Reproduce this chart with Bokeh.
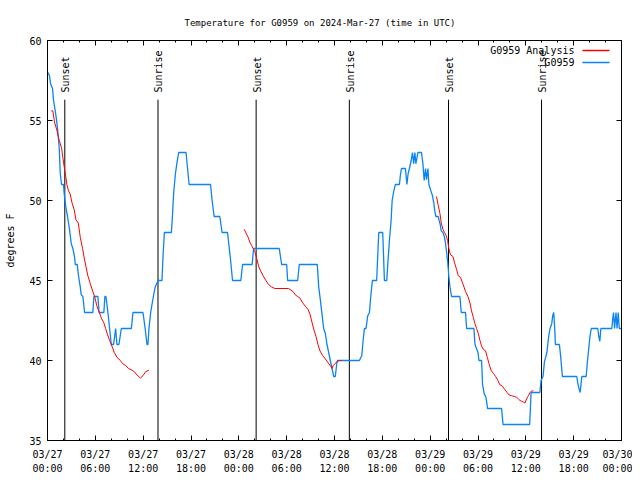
import math
from bokeh.plotting import figure
from bokeh.models import Range1d, FixedTicker, LinearAxis
from bokeh.core.properties import value
from bokeh.embed import file_html
from bokeh.resources import INLINE

TITLE = "Temperature for G0959 on 2024-Mar-27 (time in UTC)"
Y_LABEL = "degrees F"

# x axis: hours since 2024-03-27 00:00 UTC
X_TICKS = [0, 6, 12, 18, 24, 30, 36, 42, 48, 54, 60, 66, 72]
X_TICK_DATES = ["03/27", "03/27", "03/27", "03/27", "03/28", "03/28", "03/28", "03/28",
                "03/29", "03/29", "03/29", "03/29", "03/30"]
X_TICK_TIMES = ["00:00", "06:00", "12:00", "18:00", "00:00", "06:00", "12:00", "18:00",
                "00:00", "06:00", "12:00", "18:00", "00:00"]
X_MINOR = list(range(0, 73, 2))
Y_TICKS = [35, 40, 45, 50, 55, 60]

# G0959 observations
obs_hours = [0.06, 0.25, 0.38, 0.63, 0.75, 1.09, 1.26, 1.47, 1.60, 1.76, 2.01, 2.10, 2.30, 2.51,
             2.73, 2.98, 3.18, 3.39, 3.48, 3.73, 3.86, 3.98, 4.11, 4.23, 4.44, 4.65, 5.69, 5.82,
             6.32, 6.47, 7.07, 7.20, 7.33, 7.58, 7.79, 8.00, 8.29, 8.55, 8.71, 8.96, 9.26, 10.52,
             10.72, 11.98, 12.25, 12.48, 12.60, 12.73, 12.94, 13.28, 13.51, 13.86, 14.36, 14.49,
             14.66, 15.54, 15.67, 15.83, 16.05, 16.25, 16.46, 17.38, 17.76, 20.45, 20.65, 20.90,
             21.61, 21.90, 22.58, 22.74, 22.96, 23.21, 24.25, 24.47, 25.67, 25.85, 29.07, 29.37,
             30.00, 30.12, 31.38, 31.58, 33.84, 34.02, 34.22, 34.43, 34.64, 34.85, 35.06, 35.27,
             35.47, 35.69, 35.90, 36.10, 36.28, 36.40, 39.12, 39.42, 39.58, 39.75, 39.96, 40.17,
             40.38, 40.55, 40.75, 41.29, 41.42, 41.55, 42.05, 42.26, 42.56, 42.68, 42.89, 43.10,
             43.23, 43.44, 43.64, 44.14, 44.27, 44.40, 44.90, 45.08, 45.24, 45.40, 45.62, 45.78,
             45.93, 46.08, 46.21, 46.46, 46.91, 47.09, 47.25, 47.42, 47.54, 47.72, 47.84, 48.09,
             48.29, 48.47, 48.59, 48.72, 49.01, 49.13, 49.26, 49.39, 49.60, 49.80, 49.93, 50.05,
             50.18, 50.26, 50.35, 50.48, 50.68, 51.73, 51.90, 52.44, 52.57, 53.49, 53.62, 54.00,
             54.12, 54.45, 54.57, 54.79, 55.00, 55.20, 56.96, 57.14, 60.48, 60.66, 61.76, 61.91,
             62.16, 62.33, 62.64, 62.89, 63.04, 63.25, 63.37, 63.50, 63.62, 63.71, 64.21, 64.34,
             64.50, 64.59, 66.39, 66.51, 66.69, 66.82, 66.94, 67.02, 67.57, 67.70, 67.86, 68.02,
             68.20, 69.03, 69.15, 69.28, 69.41, 70.79, 70.92, 71.00, 71.13, 71.31, 71.44, 71.59,
             71.72, 71.94]
obs_temp = [58.0, 57.8, 57.3, 57.0, 56.3, 55.2, 54.5, 53.3, 51.7, 51.0, 51.0, 50.4, 49.6, 49.0,
            48.3, 47.3, 47.0, 46.5, 46.0, 46.0, 45.4, 45.0, 44.6, 44.1, 44.0, 43.0, 43.0, 44.0,
            44.0, 43.0, 43.0, 44.0, 44.0, 43.0, 42.0, 41.0, 41.0, 42.0, 41.0, 41.0, 42.0, 42.0,
            43.0, 43.0, 42.0, 41.0, 41.0, 42.0, 43.0, 44.0, 44.6, 45.0, 45.0, 46.5,
            48.0, 48.0, 49.0, 50.5, 51.7, 52.4, 53.0, 53.0, 51.0, 51.0, 50.0, 49.0,
            49.0, 48.0, 48.0, 47.3, 46.3, 45.0, 45.0, 46.0, 46.0, 47.0, 47.0, 46.0,
            46.0, 45.0, 45.0, 46.0, 46.0, 44.6, 43.8, 42.9, 42.0, 41.7, 41.0, 40.5,
            40.0, 39.5, 39.0, 39.0, 39.8, 40.0, 40.0, 40.3, 41.2, 42.0, 42.0, 42.8,
            43.0, 44.0, 45.0, 45.0, 46.5, 48.0, 48.0, 45.0, 45.0, 46.0, 47.5, 48.75,
            50.0, 50.6, 51.0, 51.0, 51.6, 52.0, 52.0, 51.0, 51.7, 52.0, 52.5, 53.0,
            52.3, 53.0, 52.3, 53.0, 53.0, 52.3, 51.25, 52.0, 51.3, 52.0, 51.0, 50.6,
            50.3, 49.8, 49.3, 49.0, 49.0, 48.75, 48.5, 48.1, 48.0, 47.7, 47.3, 46.8,
            46.25, 45.8, 45.2, 44.6, 44.0, 44.0, 43.0, 43.0, 42.0, 42.0, 41.0, 40.5,
            40.0, 40.0, 38.5, 37.9, 37.7, 37.0, 37.0, 36.0, 36.0, 38.0, 38.0, 38.75,
            39.0, 39.9, 40.5, 41.6, 42.0, 42.3, 42.8, 43.0, 42.0, 41.0, 41.0, 40.4,
            39.5, 39.0, 39.0, 38.6, 38.2, 38.0, 38.6, 39.0, 39.0, 39.8, 40.6, 41.4,
            42.0, 42.0, 41.5, 41.2, 42.0, 42.0, 42.7, 43.0, 42.0, 43.0, 42.0, 43.0,
            42.0, 42.0]

# G0959 Analysis (three separate evening/night pieces)
ana1_hours = [0.46, 0.67, 0.88, 1.17, 1.47, 1.76, 1.92, 2.10, 2.26, 2.43, 2.64, 2.85, 3.05, 3.36,
              3.56, 3.86, 4.11, 4.40, 4.61, 4.81, 5.06, 5.37, 5.62, 5.91, 6.20, 6.50, 6.79, 7.04,
              7.29, 7.54, 7.79, 8.08, 8.38, 8.71, 9.14, 9.42, 9.76, 10.18, 10.59, 10.89, 11.22,
              11.65, 11.98, 12.31, 12.73]
ana1_temp = [55.6, 55.6, 54.9, 54.4, 53.75, 53.3, 52.7, 52.1, 51.6, 51.0, 50.6, 50.4, 49.9, 49.4,
             48.8, 48.6, 47.7, 47.0, 46.4, 45.9, 45.3, 44.8, 44.4, 44.0, 43.4, 43.0, 42.6, 42.4,
             42.0, 41.6, 41.25, 40.9, 40.5, 40.2, 40.0, 39.8, 39.7, 39.5, 39.4, 39.3, 39.1,
             38.9, 39.05, 39.3, 39.4]
ana2_hours = [24.67, 24.97, 25.17, 25.38, 25.60, 25.80, 26.01, 26.23, 26.48, 26.73, 27.05, 27.39,
              27.73, 28.11, 28.52, 30.25, 30.54, 30.82, 31.08, 31.38, 31.67, 32.01, 32.33, 32.67,
              32.92, 33.17, 33.43, 33.68, 33.93, 34.18, 34.52, 34.85, 35.15, 35.44, 35.69, 35.85,
              36.10, 36.32, 36.61, 36.86]
ana2_temp = [48.2, 47.9, 47.7, 47.4, 47.2, 47.0, 46.8, 46.4, 45.9, 45.6, 45.3, 45.0,
             44.75, 44.6, 44.5, 44.5, 44.4, 44.3, 44.1, 44.0, 43.9, 43.6, 43.4, 43.2,
             42.9, 42.4, 41.9, 41.5, 41.0, 40.6, 40.3, 40.1, 39.9, 39.7, 39.5, 39.7,
             39.8, 39.95, 40.0, 40.0]
ana3_hours = [48.79, 49.01, 49.22, 49.39, 49.60, 49.80, 50.01, 50.18, 50.35, 50.55, 50.86, 51.06,
              51.31, 51.52, 51.81, 52.02, 52.24, 52.44, 52.74, 52.99, 53.19, 53.41, 53.62, 53.82,
              54.03, 54.25, 54.45, 54.66, 54.95, 55.17, 55.38, 55.63, 55.92, 56.21, 56.51, 56.71,
              57.05, 57.34, 57.64, 57.89, 58.18, 58.56, 58.85, 59.06, 59.27, 59.48, 59.69, 59.90,
              60.10, 60.32, 60.53, 60.73, 60.95]
ana3_temp = [50.25, 49.7, 49.2, 48.6, 48.2, 48.0, 47.8, 47.5, 47.0, 46.6, 46.5, 46.1,
             45.7, 45.3, 45.2, 44.9, 44.6, 44.3, 44.0, 43.6, 43.1, 42.7, 42.3, 42.0,
             41.7, 41.25, 40.9, 40.7, 40.6, 40.2, 39.8, 39.4, 39.2, 39.0, 38.75, 38.5,
             38.4, 38.2, 38.0, 37.85, 37.8, 37.75, 37.7, 37.6, 37.5, 37.45, 37.4, 37.35,
             37.6, 37.8, 38.0, 38.1, 38.1]

sun_hours = [2.17, 13.86, 26.17, 37.86, 50.30, 61.97]
sun_labels = ["Sunset", "Sunrise", "Sunset", "Sunrise", "Sunset", "Sunrise"]

SERIES_NAMES = ["G0959 Analysis", "G0959"]
COLORS = ["#ff0000", "#0a84f5"]

FONT = "DejaVu Sans Mono"
FS = "10px"

X_MIN, X_MAX = 0, 72
Y_MIN, Y_MAX = 35, 60
SUN_LINE_TOP = 56.3
SUN_TEXT_Y = 56.75

p = figure(frame_width=574, frame_height=400,
           x_range=Range1d(X_MIN, X_MAX), y_range=Range1d(Y_MIN, Y_MAX),
           output_backend="svg", toolbar_location=None, title=TITLE)
p.min_border_left = 47
p.min_border_right = 11
p.min_border_top = 40
p.min_border_bottom = 30
p.background_fill_color = "white"
p.border_fill_color = "white"
p.outline_line_color = "black"
p.outline_line_width = 1
p.xgrid.visible = False
p.ygrid.visible = False

p.title.text_font = FONT
p.title.text_font_size = "9px"
p.title.text_font_style = "normal"
p.title.text_color = "black"
p.title.align = "left"
p.title.offset = 137
p.title.standoff = 26

xt = FixedTicker(ticks=X_TICKS, minor_ticks=X_MINOR)
yt = FixedTicker(ticks=Y_TICKS, minor_ticks=[])

xa = p.xaxis[0]
xa.ticker = xt
xa.major_label_overrides = {t: l for t, l in zip(X_TICKS, X_TICK_DATES)}
ya = p.yaxis[0]
ya.ticker = yt
ya.axis_label = Y_LABEL

xa2 = LinearAxis(ticker=xt, major_label_overrides={t: l for t, l in zip(X_TICKS, X_TICK_TIMES)})
top = LinearAxis(ticker=xt)
right = LinearAxis(ticker=yt)
p.add_layout(xa2, "below")
p.add_layout(top, "above")
p.add_layout(right, "right")

for ax in [xa, xa2, ya, top, right]:
    ax.axis_line_color = "black"
    ax.major_tick_line_color = "black"
    ax.minor_tick_line_color = "black"
    ax.major_tick_in = 5
    ax.major_tick_out = 0
    ax.minor_tick_in = 2
    ax.minor_tick_out = 0
    ax.major_label_text_font = FONT
    ax.major_label_text_font_size = FS
    ax.major_label_text_color = "black"
    ax.axis_label_text_font = FONT
    ax.axis_label_text_font_size = FS
    ax.axis_label_text_font_style = "normal"
    ax.axis_label_text_color = "black"
    ax.major_label_standoff = 6
for ax in [top, right]:
    ax.major_label_text_font_size = "0px"
    ax.major_label_standoff = 0
    ax.major_label_text_alpha = 0
xa.major_label_standoff = 8
xa2.axis_line_color = None
xa2.major_tick_line_color = None
xa2.minor_tick_line_color = None
xa2.major_label_standoff = 0
ya.axis_label_standoff = 10

# Sunset / sunrise markers
p.segment(x0=sun_hours, y0=[Y_MIN] * len(sun_hours), x1=sun_hours,
          y1=[SUN_LINE_TOP] * len(sun_hours), line_color="black", line_width=1)
p.text(x=sun_hours, y=[SUN_TEXT_Y] * len(sun_hours), text=sun_labels, angle=math.pi / 2,
       text_align="left", text_baseline="middle", text_font=value(FONT),
       text_font_size=value(FS), text_color="black", x_offset=1)

# data
p.line(obs_hours, obs_temp, line_color=COLORS[1], line_width=1.3)
p.multi_line([ana1_hours, ana2_hours, ana3_hours], [ana1_temp, ana2_temp, ana3_temp],
             line_color=COLORS[0], line_width=1)

# legend (gnuplot style: label, then sample line)
LEG_TEXT_X = 66.1
LEG_LINE_X0, LEG_LINE_X1 = 67.1, 70.5
LEG_Y = [59.375, 58.625]
p.text(x=[LEG_TEXT_X] * 2, y=LEG_Y, text=SERIES_NAMES, text_align="right",
       text_baseline="middle", text_font=value(FONT), text_font_size=value(FS),
       text_color="black")
p.segment(x0=[LEG_LINE_X0] * 2, y0=LEG_Y, x1=[LEG_LINE_X1] * 2, y1=LEG_Y,
          line_color=COLORS, line_width=1.3)

open("out.html", "w").write(file_html(p, INLINE))
